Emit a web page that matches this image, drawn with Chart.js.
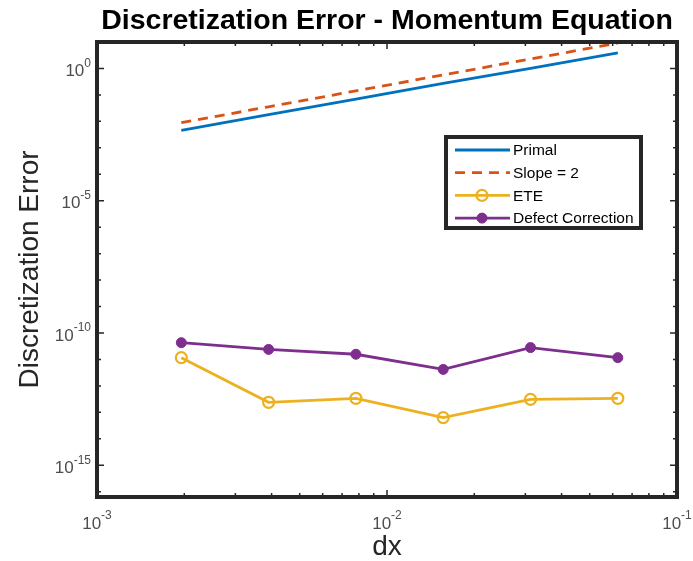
<!DOCTYPE html>
<html>
<head>
<meta charset="utf-8">
<script src="https://cdn.jsdelivr.net/npm/chart.js@4.4.0/dist/chart.umd.min.js"></script>
<style>
  html, body { margin: 0; padding: 0; background: #fff; }
  #wrap { width: 693px; height: 561px; }
</style>
</head>
<body>
<div id="wrap"><canvas id="errChart" width="693" height="561"></canvas></div>
<script>
// grid spacing and the error measured at each level
const dx = [1 / 512, 1 / 256, 1 / 128, 1 / 64, 1 / 32, 1 / 16];
const primalErr = [4.6e-3, 1.8e-2, 7.0e-2, 2.7e-1, 1.0, 3.9];
const slopeRef = [8.9e-3, 3.56e-2, 1.42e-1, 5.7e-1, 2.28, 9.1];
const eteErr = [1.17e-11, 2.4e-13, 3.4e-13, 6.3e-14, 3.1e-13, 3.4e-13];
const defectErr = [4.3e-11, 2.4e-11, 1.57e-11, 4.2e-12, 2.8e-11, 1.17e-11];

const seriesNames = ['Primal', 'Slope = 2', 'ETE', 'Defect Correction'];
const xTickExp = [-3, -2, -1];
const yTickExp = [-15, -10, -5, 0];

const FONT = '"Liberation Sans", Arial, Helvetica, sans-serif';
const AXIS_COLOR = '#262626';

const pts = (ys) => dx.map((x, i) => ({ x: x, y: ys[i] }));

// "10" with a raised exponent, centred on x (or right-aligned when align = 'right')
function drawPow(ctx, exp, x, y, align) {
    ctx.save();
    ctx.fillStyle = '#4d4d4d';
    ctx.textBaseline = 'middle';
    ctx.textAlign = 'left';
    ctx.font = '17px ' + FONT;
    const wBase = ctx.measureText('10').width;
    ctx.font = '12px ' + FONT;
    const sup = String(exp);
    const wSup = ctx.measureText(sup).width;
    const total = wBase + wSup;
    let left = align === 'right' ? x - total : x - total / 2;
    ctx.font = '17px ' + FONT;
    ctx.fillText('10', left, y + 3);
    ctx.font = '12px ' + FONT;
    ctx.fillText(sup, left + wBase, y - 5);
    ctx.restore();
}

const axesPlugin = {
    id: 'matlabAxes',
    afterDraw(chart) {
        const ctx = chart.ctx;
        const area = chart.chartArea;
        const xs = chart.scales.x;
        const ys = chart.scales.y;

        ctx.save();
        ctx.strokeStyle = AXIS_COLOR;
        ctx.lineWidth = 1.5;

        // x ticks (inward, bottom and top)
        for (let e = -3; e <= -1; e++) {
            for (let k = 1; k <= 9; k++) {
                const v = k * Math.pow(10, e);
                if (v > 0.1 + 1e-12) break;
                const px = xs.getPixelForValue(v);
                if (px < area.left - 0.5 || px > area.right + 0.5) continue;
                const len = k === 1 ? 7 : 4;
                ctx.beginPath();
                ctx.moveTo(px, area.bottom);
                ctx.lineTo(px, area.bottom - len);
                ctx.moveTo(px, area.top);
                ctx.lineTo(px, area.top + len);
                ctx.stroke();
            }
        }
        // y ticks: one per decade, longer every fifth
        for (let e = -16; e <= 1; e++) {
            const py = ys.getPixelForValue(Math.pow(10, e));
            if (py < area.top - 0.5 || py > area.bottom + 0.5) continue;
            const len = e % 5 === 0 ? 7 : 4;
            ctx.beginPath();
            ctx.moveTo(area.left, py);
            ctx.lineTo(area.left + len, py);
            ctx.moveTo(area.right, py);
            ctx.lineTo(area.right - len, py);
            ctx.stroke();
        }

        // box
        ctx.lineWidth = 4;
        ctx.strokeRect(area.left, area.top, area.right - area.left, area.bottom - area.top);
        ctx.restore();

        // tick labels
        xTickExp.forEach(e => drawPow(ctx, e, xs.getPixelForValue(Math.pow(10, e)), area.bottom + 24, 'center'));
        yTickExp.forEach(e => drawPow(ctx, e, area.left - 6, ys.getPixelForValue(Math.pow(10, e)), 'right'));

        // title and axis labels
        ctx.save();
        ctx.fillStyle = '#000';
        ctx.textAlign = 'center';
        ctx.textBaseline = 'middle';
        ctx.font = 'bold 28.5px ' + FONT;
        ctx.fillText('Discretization Error - Momentum Equation', (area.left + area.right) / 2, 21);
        ctx.fillStyle = AXIS_COLOR;
        ctx.font = '28px ' + FONT;
        ctx.fillText('dx', (area.left + area.right) / 2, 547);
        ctx.translate(30, (area.top + area.bottom) / 2);
        ctx.rotate(-Math.PI / 2);
        ctx.fillText('Discretization Error', 0, 0);
        ctx.restore();

        // legend
        const lx = 446, ly = 137, lw = 195, lh = 91;
        ctx.save();
        ctx.fillStyle = '#fff';
        ctx.fillRect(lx, ly, lw, lh);
        ctx.lineWidth = 4;
        ctx.strokeStyle = AXIS_COLOR;
        ctx.strokeRect(lx, ly, lw, lh);
        chart.data.datasets.forEach((ds, i) => {
            const ry = ly + 13 + i * 22.7;
            ctx.save();
            ctx.strokeStyle = ds.borderColor;
            ctx.lineWidth = ds.borderWidth;
            ctx.setLineDash(ds.borderDash || []);
            ctx.beginPath();
            ctx.moveTo(lx + 9, ry);
            ctx.lineTo(lx + 64, ry);
            ctx.stroke();
            ctx.setLineDash([]);
            if (ds.pointRadius > 0) {
                ctx.beginPath();
                ctx.arc(lx + 36, ry, ds.pointRadius, 0, Math.PI * 2);
                if (ds.pointBackgroundColor !== 'transparent') {
                    ctx.fillStyle = ds.pointBackgroundColor;
                    ctx.fill();
                }
                ctx.lineWidth = ds.pointBorderWidth;
                ctx.strokeStyle = ds.pointBorderColor;
                ctx.stroke();
            }
            ctx.restore();
            ctx.fillStyle = '#000';
            ctx.font = '15.5px ' + FONT;
            ctx.textAlign = 'left';
            ctx.textBaseline = 'middle';
            ctx.fillText(ds.label, lx + 67, ry + 1);
        });
        ctx.restore();
    }
};

new Chart(document.getElementById('errChart'), {
    type: 'line',
    data: {
        datasets: [
            {
                label: seriesNames[0], data: pts(primalErr),
                borderColor: '#0072BD', borderWidth: 2.8, pointRadius: 0, tension: 0
            },
            {
                label: seriesNames[1], data: pts(slopeRef),
                borderColor: '#D95319', borderWidth: 2.8, borderDash: [10, 7], pointRadius: 0, tension: 0
            },
            {
                label: seriesNames[2], data: pts(eteErr),
                borderColor: '#EDB120', borderWidth: 2.8, tension: 0,
                pointRadius: 5.5, pointBorderWidth: 2.2,
                pointBorderColor: '#EDB120', pointBackgroundColor: 'transparent'
            },
            {
                label: seriesNames[3], data: pts(defectErr),
                borderColor: '#7E2F8E', borderWidth: 2.8, tension: 0,
                pointRadius: 5, pointBorderWidth: 1,
                pointBorderColor: '#7E2F8E', pointBackgroundColor: '#7E2F8E'
            }
        ]
    },
    options: {
        responsive: false,
        animation: false,
        devicePixelRatio: 1,
        layout: { padding: { left: 97, right: 16, top: 42, bottom: 64 } },
        plugins: {
            legend: { display: false },
            title: { display: false },
            tooltip: { enabled: false }
        },
        scales: {
            x: { type: 'logarithmic', min: 1e-3, max: 1e-1, display: false },
            y: { type: 'logarithmic', min: Math.pow(10, -16.2), max: 10, display: false }
        }
    },
    plugins: [axesPlugin]
});
</script>
</body>
</html>
